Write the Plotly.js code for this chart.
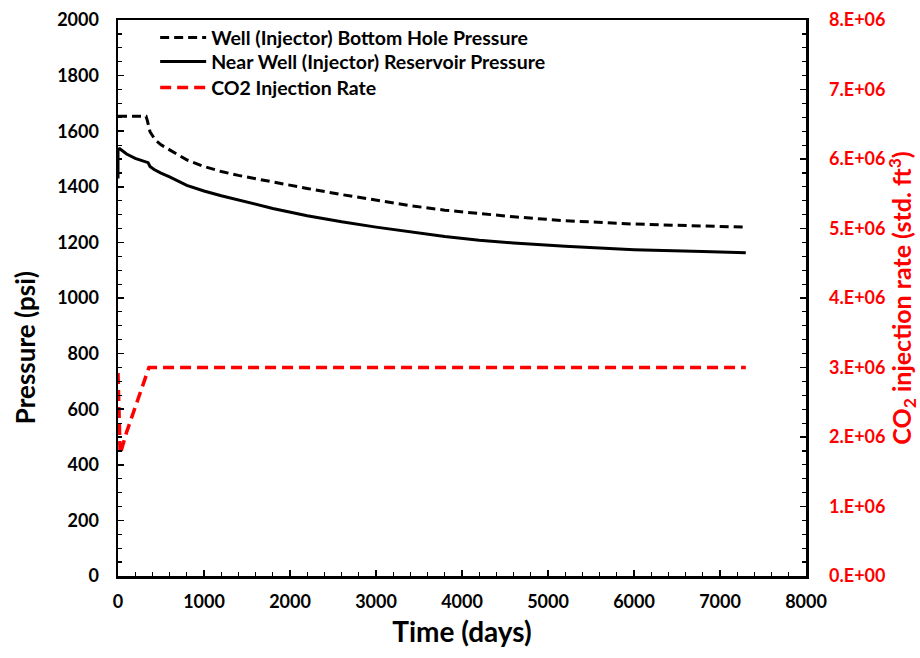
<!DOCTYPE html>
<html>
<head>
<meta charset="utf-8">
<script src="https://cdn.plot.ly/plotly-3.0.1.min.js"></script>
<style>html,body{margin:0;padding:0;background:#fff;}#chart{width:920px;height:658px;}</style>
</head>
<body>
<div id="chart"></div>
<script>
// Well (Injector) Bottom Hole Pressure (psi)
const bhpDays = [0, 326, 340, 355, 372, 430, 500, 600, 800, 1000, 1200, 1400, 1800, 2200, 2600, 3000, 3400, 3800, 4200, 4600, 5200, 6000, 6800, 7300];
const bhpPsi  = [1654, 1654, 1640, 1615, 1598, 1570, 1551, 1533, 1497, 1473, 1455, 1441, 1417, 1394, 1372, 1351, 1332, 1316, 1303, 1292, 1278, 1266, 1259, 1255];

// Near Well (Injector) Reservoir Pressure (psi)
const nwDays = [0, 0, 20, 100, 200, 330, 350, 372, 420, 500, 600, 800, 1000, 1200, 1400, 1800, 2200, 2600, 3000, 3400, 3800, 4200, 4600, 5200, 6000, 6800, 7300];
const nwPsi  = [1430, 1535, 1537, 1518, 1502, 1491, 1487, 1473, 1462, 1449, 1436, 1405, 1385, 1368, 1352, 1322, 1296, 1274, 1255, 1237, 1221, 1208, 1198, 1186, 1174, 1167, 1163];

// CO2 Injection Rate (std. ft3)
const rateDays = [0, 25, 100, 200, 280, 360, 1000, 3000, 5000, 7300];
const rateVals = [2.92e6, 1.75e6, 2.07e6, 2.42e6, 2.70e6, 3.0e6, 3.0e6, 3.0e6, 3.0e6, 3.0e6];

// Axis tick labels
const xTickVals = [0, 1000, 2000, 3000, 4000, 5000, 6000, 7000, 8000];
const yTickVals = [0, 200, 400, 600, 800, 1000, 1200, 1400, 1600, 1800, 2000];
const y2TickVals = [0, 1e6, 2e6, 3e6, 4e6, 5e6, 6e6, 7e6, 8e6];
const y2TickText = ["0.E+00", "1.E+06", "2.E+06", "3.E+06", "4.E+06", "5.E+06", "6.E+06", "7.E+06", "8.E+06"];

const FONT = "Lato, 'Open Sans', sans-serif";

const traces = [
  {x: bhpDays, y: bhpPsi, type: 'scatter', mode: 'lines', name: 'Well (Injector) Bottom Hole Pressure',
   line: {color: '#000', width: 3, dash: '9px,5px'}, yaxis: 'y', legend: 'legend'},
  {x: nwDays, y: nwPsi, type: 'scatter', mode: 'lines', name: 'Near Well (Injector) Reservoir Pressure',
   line: {color: '#000', width: 3}, yaxis: 'y', legend: 'legend2'},
  {x: rateDays, y: rateVals, type: 'scatter', mode: 'lines', name: 'CO2 Injection Rate',
   line: {color: '#ff0000', width: 3.5, dash: '11px,6px'}, yaxis: 'y2', legend: 'legend3'}
];

function leg(yc) {
  return {x: 0.054, y: yc, xanchor: 'left', yanchor: 'middle', bgcolor: 'rgba(0,0,0,0)',
          itemwidth: 46, font: {family: FONT, size: 19.5, color: '#000', weight: 'bold'}};
}

const layout = {
  width: 920, height: 658,
  margin: {l: 118, r: 114, t: 20, b: 82},
  paper_bgcolor: '#fff', plot_bgcolor: '#fff',
  font: {family: FONT, color: '#000', weight: 'bold'},
  showlegend: true,
  legend: leg(0.968),
  legend2: leg(0.925),
  legend3: leg(0.878),
  annotations: [
    {text: 'Pressure (psi)', xref: 'paper', yref: 'paper', x: -0.135, y: 0.41,
     xanchor: 'center', yanchor: 'middle', textangle: -90, showarrow: false,
     font: {family: FONT, size: 26, color: '#000', weight: 'bold'}},
    {text: 'CO<sub>2</sub> injection rate (std. ft<sup>3</sup>)', xref: 'paper', yref: 'paper', x: 1.139, y: 0.5,
     xanchor: 'center', yanchor: 'middle', textangle: -90, showarrow: false,
     font: {family: FONT, size: 25, color: '#ff0000', weight: 'bold'}}
  ],
  xaxis: {
    range: [0, 8000], tickmode: 'array', tickvals: xTickVals,
    showline: true, linecolor: '#000', linewidth: 2.5, mirror: true,
    ticks: 'inside', ticklen: 6, tickwidth: 1.5, tickcolor: '#000',
    minor: {tickmode: 'linear', tick0: 0, dtick: 200, ticks: 'inside', ticklen: 4, tickwidth: 1.2, tickcolor: '#000'},
    showgrid: false, zeroline: false, ticklabelstandoff: 8,
    tickfont: {family: FONT, size: 18, color: '#000', weight: 'bold'},
    title: {text: 'Time (days)', font: {family: FONT, size: 28, color: '#000', weight: 'bold'}, standoff: 12}
  },
  yaxis: {
    range: [0, 2000], tickmode: 'array', tickvals: yTickVals,
    showline: true, linecolor: '#000', linewidth: 2.5, mirror: true,
    ticks: 'inside', ticklen: 6, tickwidth: 1.5, tickcolor: '#000',
    minor: {tickmode: 'linear', tick0: 0, dtick: 50, ticks: 'inside', ticklen: 4, tickwidth: 1.2, tickcolor: '#000'},
    showgrid: false, zeroline: false, ticklabelstandoff: 13,
    tickfont: {family: FONT, size: 18, color: '#000', weight: 'bold'}
  },
  yaxis2: {
    range: [0, 8e6], overlaying: 'y', side: 'right', tickmode: 'array', tickvals: y2TickVals, ticktext: y2TickText,
    showline: true, linecolor: '#000', linewidth: 2.5,
    ticks: 'inside', ticklen: 6, tickwidth: 1.5, tickcolor: '#000',
    minor: {tickmode: 'linear', tick0: 0, dtick: 2e5, ticks: 'inside', ticklen: 4, tickwidth: 1.2, tickcolor: '#000'},
    showgrid: false, zeroline: false, ticklabelstandoff: 17,
    tickfont: {family: FONT, size: 18, color: '#ff0000', weight: 'bold'}
  }
};

Plotly.newPlot('chart', traces, layout, {displayModeBar: false, staticPlot: true});
</script>
</body>
</html>
